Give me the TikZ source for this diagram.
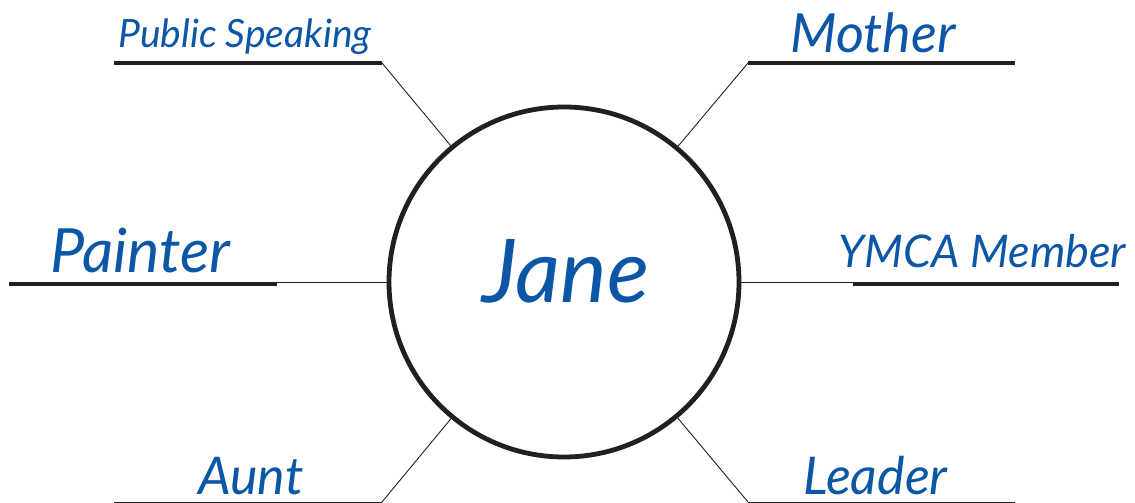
\documentclass[tikz,border=0pt]{standalone}
\usepackage{fontspec}
\setmainfont{Lato}
\definecolor{ink}{HTML}{231F20}
\definecolor{pen}{HTML}{0B56A6}

\begin{document}
\begin{tikzpicture}[x=1pt,y=-1pt,
  word/.style={text=pen,anchor=base west,inner sep=0pt},
  rule/.style={ink,line width=4.8pt},
  spoke/.style={ink,line width=0.9pt}]
  \useasboundingbox (0,0) rectangle (1135,503);
  \clip (0,0) rectangle (1135,503);

  % centre
  \node[draw=ink,line width=4.8pt,circle,minimum size=350pt,inner sep=0pt] (jane) at (564,282) {};
  \node[word,font=\itshape\fontsize{88}{88}\selectfont] (name) at (482,302) {Jane};

  % labels
  \node[word,font=\itshape\fontsize{39}{39}\selectfont] (speak) at (118,48) {Public Speaking};
  \node[word,font=\itshape\fontsize{54}{54}\selectfont] (mother) at (790,53) {Mother};
  \node[word,font=\itshape\fontsize{61}{61}\selectfont] (painter) at (50,272) {Painter};
  \node[word,font=\itshape\fontsize{45}{45}\selectfont] (ymca) at (838,267) {YMCA Member};
  \node[word,font=\itshape\fontsize{52}{52}\selectfont] (aunt) at (198,494) {Aunt};
  \node[word,font=\itshape\fontsize{52}{52}\selectfont] (leader) at (803,494) {Leader};

  % writing lines
  \coordinate (speak-a) at (114,63);  \coordinate (speak-b) at (382,63);
  \coordinate (mother-a) at (748,63); \coordinate (mother-b) at (1015,63);
  \coordinate (painter-a) at (9,284); \coordinate (painter-b) at (277,284);
  \coordinate (painter-c) at (277,282);
  \coordinate (ymca-a) at (853,284);  \coordinate (ymca-b) at (1119,284);
  \coordinate (ymca-c) at (853,282);
  \coordinate (aunt-a) at (114,504.5);  \coordinate (aunt-b) at (382,504.5);
  \coordinate (aunt-c) at (382,502);
  \coordinate (leader-a) at (748,504.5); \coordinate (leader-b) at (1015,504.5);
  \coordinate (leader-c) at (748,502);

  \draw[rule] (speak-a) -- (speak-b);
  \draw[rule] (mother-a) -- (mother-b);
  \draw[rule] (painter-a) -- (painter-b);
  \draw[rule] (ymca-a) -- (ymca-b);
  \draw[rule] (aunt-a) -- (aunt-b);
  \draw[rule] (leader-a) -- (leader-b);

  % spokes
  \draw[spoke] (speak-b) -- (jane);
  \draw[spoke] (mother-a) -- (jane);
  \draw[spoke] (painter-c) -- (jane);
  \draw[spoke] (ymca-c) -- (jane);
  \draw[spoke] (aunt-c) -- (jane);
  \draw[spoke] (leader-c) -- (jane);
\end{tikzpicture}
\end{document}
